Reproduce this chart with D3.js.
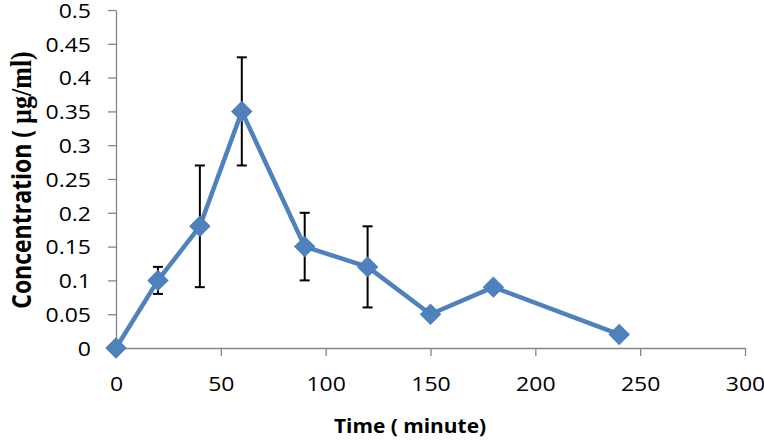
<!DOCTYPE html>
<html><head><meta charset="utf-8">
<script src="https://cdn.jsdelivr.net/npm/d3@7"></script>
<style>body{margin:0;background:#fff}svg{display:block}</style>
</head><body>
<svg id="c" width="764" height="443"></svg>
<script>
const times = [0, 20, 40, 60, 90, 120, 150, 180, 240];
const conc = [0, 0.1, 0.18, 0.35, 0.15, 0.12, 0.05, 0.09, 0.02];
const errLow = [null, 0.08, 0.09, 0.27, 0.10, 0.06, null, null, null];
const errHigh = [null, 0.12, 0.27, 0.43, 0.20, 0.18, null, null, null];
const xTicks = [0, 50, 100, 150, 200, 250, 300];
const yTicks = [0, 0.05, 0.1, 0.15, 0.2, 0.25, 0.3, 0.35, 0.4, 0.45, 0.5];

const svg = d3.select("#c");
const m = {l:116, r:19, t:10, b:95};
const W = 764, H = 443;
const x = d3.scaleLinear().domain([0,300]).range([m.l, W-m.r]);
const y = d3.scaleLinear().domain([0,0.5]).range([H-m.b, m.t]);
const tickFont = "'Open Sans', sans-serif";
const tickSize = 20;

// x axis
const xa = svg.append("g").attr("transform",`translate(0,${y(0)})`)
  .call(d3.axisBottom(x).tickValues(xTicks).tickSize(8).tickSizeOuter(0).tickFormat(d3.format("d")));
xa.select(".domain").attr("stroke","#868686").attr("stroke-width",1.3);
xa.selectAll(".tick line").attr("stroke","#868686").attr("stroke-width",1.3);
xa.selectAll(".tick text").attr("font-family",tickFont).attr("font-size",tickSize).attr("fill","#000")
  .attr("y",0).attr("dy",0).attr("x",0)
  .attr("transform","translate(0,43) scale(1.15,1)");

// y axis
const ya = svg.append("g").attr("transform",`translate(${x(0)},0)`)
  .call(d3.axisLeft(y).tickValues(yTicks).tickSize(8).tickSizeOuter(0).tickFormat(d=>String(+d.toFixed(2))));
ya.select(".domain").attr("stroke","#868686").attr("stroke-width",1.3);
ya.selectAll(".tick line").attr("stroke","#868686").attr("stroke-width",1.3);
ya.selectAll(".tick text").attr("font-family",tickFont).attr("font-size",tickSize).attr("fill","#000")
  .attr("x",0).attr("dy","0.36em")
  .attr("transform","translate(-25,0) scale(1.15,1)");

// error bars
const eb = svg.append("g");
times.forEach((t,i)=>{
  if(errLow[i]==null) return;
  const cx = x(t);
  eb.append("line").attr("x1",cx).attr("x2",cx).attr("y1",y(errLow[i])).attr("y2",y(errHigh[i]))
    .attr("stroke","#000").attr("stroke-width",2);
  [errLow[i],errHigh[i]].forEach(v=>{
    eb.append("line").attr("x1",cx-5).attr("x2",cx+5).attr("y1",y(v)).attr("y2",y(v))
      .attr("stroke","#000").attr("stroke-width",2);
  });
});

// line
const line = d3.line().x((d,i)=>x(times[i])).y(d=>y(d));
svg.append("path").datum(conc).attr("d",line).attr("fill","none")
  .attr("stroke","#4F81BD").attr("stroke-width",4.5).attr("stroke-linejoin","round");

// markers (square rotated 45°)
const sym = d3.symbol().type(d3.symbolSquare).size(200);
svg.append("g").selectAll("path").data(conc).join("path")
  .attr("d",sym).attr("transform",(d,i)=>`translate(${x(times[i])},${y(d)}) rotate(45)`)
  .attr("fill","#4F81BD").attr("stroke","#4A7EBB").attr("stroke-width",1);

// axis titles
svg.append("text").attr("text-anchor","middle")
  .attr("transform","translate(410,433) scale(1.1,1)")
  .attr("font-family","'Open Sans', sans-serif").attr("font-weight","bold").attr("font-size",19)
  .text("Time ( minute)");

const yt = svg.append("text").attr("transform","translate(31,180) rotate(-90) scale(1,1.15)").attr("text-anchor","middle")
  .attr("font-weight","bold").attr("font-size",23);
yt.append("tspan").attr("font-family","'Open Sans', sans-serif").text("Concentration ( ");
yt.append("tspan").attr("font-family","'Liberation Serif', serif").attr("font-size",26).text("µg/ml)");
</script>
</body></html>
